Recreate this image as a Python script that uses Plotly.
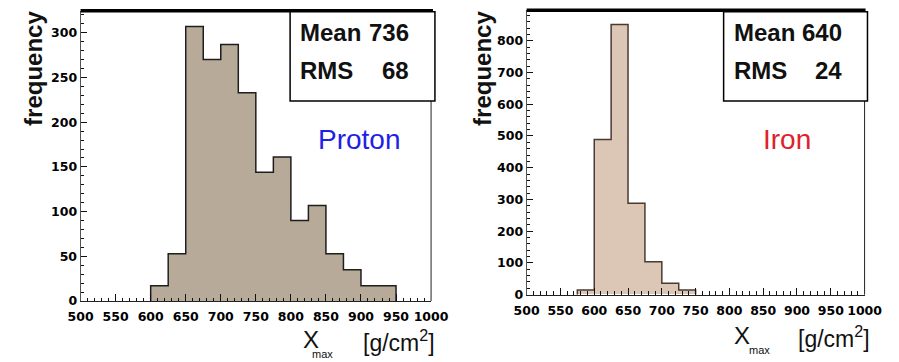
import plotly.graph_objects as go

# Xmax distributions (bin width 25 g/cm^2)
bin_width = 25
proton_edges_start = 600
proton_counts = [17, 53, 307, 270, 287, 233, 144, 161, 90, 107, 53, 35, 17, 17]
iron_edges_start = 575
iron_counts = [15, 489, 851, 288, 104, 36, 15]

x_ticks = [500, 550, 600, 650, 700, 750, 800, 850, 900, 950, 1000]
stats = {"Proton": ("736", "68"), "Iron": ("640", "24")}

W, H = 899, 362


def px(x):
    return x / W


def py(y):
    return 1 - y / H


def centers(start, counts):
    return [start + bin_width * (i + 0.5) for i in range(len(counts))]


def outline(start, counts):
    edges = [start + bin_width * i for i in range(len(counts) + 1)]
    xs = [edges[0]] + edges[:-1] + [edges[-1]]
    ys = [0] + list(counts) + [0]
    return xs, ys


fig = go.Figure()

panels = [
    dict(name="Proton", start=proton_edges_start, counts=proton_counts,
         fill="#b7aa99", edge="#1e1e1e", xa="x", ya="y"),
    dict(name="Iron", start=iron_edges_start, counts=iron_counts,
         fill="#dcc7b7", edge="#4a3a32", xa="x2", ya="y2"),
]

for p in panels:
    fig.add_trace(go.Bar(
        x=centers(p["start"], p["counts"]), y=p["counts"], width=bin_width,
        marker=dict(color=p["fill"], line=dict(width=0)),
        xaxis=p["xa"], yaxis=p["ya"], showlegend=False, hoverinfo="skip"))
    ox, oy = outline(p["start"], p["counts"])
    fig.add_trace(go.Scatter(
        x=ox, y=oy, mode="lines", line=dict(color=p["edge"], width=1.5, shape="hv"),
        xaxis=p["xa"], yaxis=p["ya"], showlegend=False, hoverinfo="skip"))

tick_font = dict(family="DejaVu Sans", size=12.5, color="#000", weight="bold")

xcommon = dict(range=[500, 1000], tickvals=x_ticks, ticks="inside", ticklen=7,
               tickwidth=1, tickcolor="#111", showline=True, linecolor="#222",
               linewidth=1, showgrid=False, zeroline=False, tickfont=tick_font,
               ticklabelstandoff=4,
               minor=dict(ticks="inside", dtick=10, tick0=500, ticklen=3.5,
                          tickcolor="#111", tickwidth=1))
ycommon = dict(ticks="inside", ticklen=6, tickwidth=1, tickcolor="#111",
               showline=True, linecolor="#555", linewidth=1, showgrid=False,
               zeroline=False, tickfont=tick_font)

# panel frames in pixel coordinates: (left, right, top, bottom)
left_box = (70, 433, 11, 307)
right_box = (532, 882, 10.5, 300.5)

fig.update_layout(
    width=W, height=H, margin=dict(l=0, r=0, t=0, b=0),
    paper_bgcolor="white", plot_bgcolor="white", bargap=0,
    xaxis=dict(domain=[px(left_box[0]), px(left_box[1])], anchor="y", **xcommon),
    yaxis=dict(domain=[py(left_box[3]), py(left_box[2])], anchor="x",
               range=[0, 324.6], dtick=50,
               minor=dict(ticks="inside", dtick=10, ticklen=3.5, tickcolor="#111"),
               **ycommon),
    xaxis2=dict(domain=[px(right_box[0]), px(right_box[1])], anchor="y2", **xcommon),
    yaxis2=dict(domain=[py(right_box[3]), py(right_box[2])], anchor="x2",
                range=[0, 896], dtick=100,
                minor=dict(ticks="inside", dtick=20, ticklen=3.5, tickcolor="#111"),
                **ycommon),
)

shapes = []
annotations = []

stat_boxes = {"Proton": (287, 437, 12, 103), "Iron": (736, 885, 12, 103)}
label_pos = {"Proton": (359, 142, "#1f1fe6"), "Iron": (802, 142, "#e0202a")}

for p, box in (("Proton", left_box), ("Iron", right_box)):
    l, r, t, b = box
    sl, sr, st, sb = stat_boxes[p]
    # thick top border and thin right border of the frame
    shapes.append(dict(type="line", xref="paper", yref="paper",
                       x0=px(l), x1=px(sr - 2), y0=py(t), y1=py(t),
                       line=dict(color="black", width=3.5)))
    shapes.append(dict(type="line", xref="paper", yref="paper",
                       x0=px(r), x1=px(r), y0=py(sb), y1=py(b),
                       line=dict(color="#222", width=1)))
    # statistics box
    shapes.append(dict(type="rect", xref="paper", yref="paper",
                       x0=px(sl), x1=px(sr), y0=py(sb), y1=py(st),
                       fillcolor="white", line=dict(color="black", width=1.5),
                       layer="above"))
    mean, rms = stats[p]
    sfont = dict(family="Liberation Sans", size=24, color="#111", weight="bold")
    for txt, x, y, anc in (("Mean", sl + 8.5, 33, "left"), (mean, sl + 125, 33, "right"),
                           ("RMS", sl + 8.5, 72, "left"), (rms, sl + 125, 72, "right")):
        annotations.append(dict(text=txt, x=px(x), y=py(y), xref="paper", yref="paper",
                                xanchor=anc, yanchor="middle", showarrow=False, font=sfont))
    lx, ly, lc = label_pos[p]
    annotations.append(dict(text=p, x=px(lx), y=py(ly), xref="paper", yref="paper",
                            xanchor="center", yanchor="middle", showarrow=False,
                            font=dict(family="Liberation Sans", size=28, color=lc)))

# y-axis titles
for x in (21, 486):
    annotations.append(dict(text="frequency", x=px(x), y=py(70), xref="paper",
                            yref="paper", xanchor="center", yanchor="middle",
                            textangle=-90, showarrow=False,
                            font=dict(family="Liberation Sans", size=24, color="#111",
                                      weight="bold")))

# x-axis titles
for xX, xm, xu, yX in ((309, 321, 400, 346), (755, 773, 850, 342)):
    annotations.append(dict(text="X", x=px(xX), y=py(yX), xref="paper", yref="paper",
                            xanchor="center", yanchor="middle", showarrow=False,
                            font=dict(family="Liberation Sans", size=24, color="#111")))
    annotations.append(dict(text="max", x=px(xm), y=py(yX + 15), xref="paper",
                            yref="paper", xanchor="center", yanchor="middle",
                            showarrow=False,
                            font=dict(family="Liberation Sans", size=11, color="#111")))
    annotations.append(dict(text="[g/cm<sup>2</sup>]", x=px(xu), y=py(yX + 2),
                            xref="paper", yref="paper", xanchor="center",
                            yanchor="middle", showarrow=False,
                            font=dict(family="Liberation Sans", size=23, color="#111")))

fig.update_layout(shapes=shapes, annotations=annotations)
fig.write_html("out.html")
